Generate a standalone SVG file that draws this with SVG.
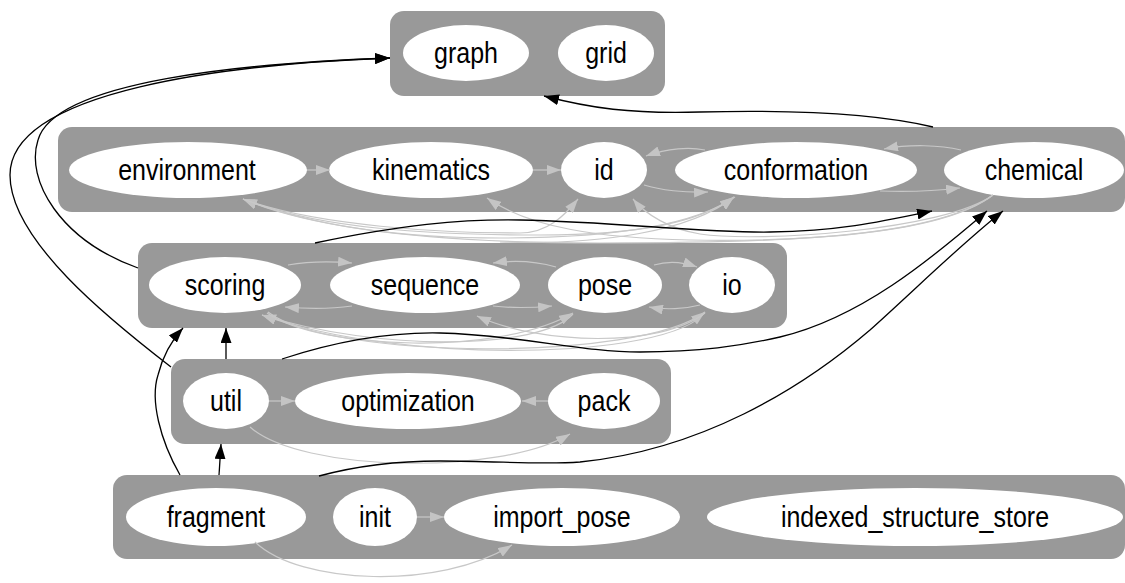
<svg xmlns="http://www.w3.org/2000/svg" width="1125" height="583" viewBox="0 0 1125 583">
<defs>
<marker id="ab" markerUnits="userSpaceOnUse" markerWidth="15" markerHeight="11" refX="15" refY="5.5" orient="auto"><path d="M0,0 L15,5.5 L0,11 z" fill="#000"/></marker>
<marker id="ag" markerUnits="userSpaceOnUse" markerWidth="14" markerHeight="10" refX="14" refY="5" orient="auto"><path d="M0,0 L14,5 L0,10 z" fill="#c4c4c4"/></marker>
</defs>
<style>
.cl{fill:#999999}
.nd{fill:#ffffff}
text{font-family:"Liberation Sans",Arial,sans-serif;font-size:25px;fill:#000;text-anchor:middle}
.g{fill:none;stroke:#c8c8c8;stroke-width:1.2;marker-end:url(#ag)}
.b{fill:none;stroke:#000;stroke-width:1.3;marker-end:url(#ab)}
</style>
<g id="clusters">
<rect class="cl" x="390" y="11" width="275" height="85" rx="14"/>
<rect class="cl" x="58" y="127" width="1067" height="85" rx="14"/>
<rect class="cl" x="138" y="243" width="649" height="85" rx="14"/>
<rect class="cl" x="171" y="359" width="500" height="85" rx="14"/>
<rect class="cl" x="113" y="475" width="1012" height="84" rx="14"/>
</g>
<g id="node-graph"><ellipse class="nd" cx="466" cy="53" rx="63" ry="28"/><text transform="translate(466,63) scale(1,1.15)">graph</text></g>
<g id="node-grid"><ellipse class="nd" cx="606" cy="53" rx="48" ry="28"/><text transform="translate(606,63) scale(1,1.15)">grid</text></g>
<g id="node-environment"><ellipse class="nd" cx="188" cy="170" rx="119" ry="28"/><text transform="translate(187,180) scale(1,1.15)">environment</text></g>
<g id="node-kinematics"><ellipse class="nd" cx="431" cy="170" rx="102" ry="28"/><text transform="translate(431,180) scale(1,1.15)">kinematics</text></g>
<g id="node-id"><ellipse class="nd" cx="604" cy="170" rx="43" ry="28"/><text transform="translate(604,180) scale(1,1.15)">id</text></g>
<g id="node-conformation"><ellipse class="nd" cx="796" cy="170" rx="121" ry="28"/><text transform="translate(796,180) scale(1,1.15)">conformation</text></g>
<g id="node-chemical"><ellipse class="nd" cx="1034" cy="170" rx="90" ry="28"/><text transform="translate(1034,180) scale(1,1.15)">chemical</text></g>
<g id="node-scoring"><ellipse class="nd" cx="225" cy="285" rx="76" ry="28"/><text transform="translate(225,295) scale(1,1.15)">scoring</text></g>
<g id="node-sequence"><ellipse class="nd" cx="425" cy="285" rx="95" ry="28"/><text transform="translate(425,295) scale(1,1.15)">sequence</text></g>
<g id="node-pose"><ellipse class="nd" cx="605" cy="285" rx="57" ry="28"/><text transform="translate(605,295) scale(1,1.15)">pose</text></g>
<g id="node-io"><ellipse class="nd" cx="732" cy="285" rx="43" ry="28"/><text transform="translate(732,295) scale(1,1.15)">io</text></g>
<g id="node-util"><ellipse class="nd" cx="226" cy="401" rx="43" ry="28"/><text transform="translate(226,411) scale(1,1.15)">util</text></g>
<g id="node-optimization"><ellipse class="nd" cx="408" cy="401" rx="113" ry="28"/><text transform="translate(408,411) scale(1,1.15)">optimization</text></g>
<g id="node-pack"><ellipse class="nd" cx="604" cy="401" rx="56" ry="28"/><text transform="translate(604,411) scale(1,1.15)">pack</text></g>
<g id="node-fragment"><ellipse class="nd" cx="216" cy="517" rx="90" ry="29"/><text transform="translate(216,527) scale(1,1.15)">fragment</text></g>
<g id="node-init"><ellipse class="nd" cx="375" cy="517" rx="42" ry="29"/><text transform="translate(375,527) scale(1,1.15)">init</text></g>
<g id="node-import_pose"><ellipse class="nd" cx="562" cy="517" rx="118" ry="29"/><text transform="translate(562,527) scale(1,1.15)">import_pose</text></g>
<g id="node-indexed_structure_store"><ellipse class="nd" cx="915" cy="517" rx="208" ry="29"/><text transform="translate(915,527) scale(1,1.15)">indexed_structure_store</text></g>
<g id="connectors">
<path class="g" d="M307,170 L330,170"/>
<path class="g" d="M533,170 L561,170"/>
<path class="g" d="M705,150 C690,147 668,148 646,156"/>
<path class="g" d="M961,150 C940,145 910,144 884,149"/>
<path class="g" d="M644,185 C660,190 685,193 708,192"/>
<path class="g" d="M880,191 C905,192 935,191 960,188"/>
<path class="g" d="M993,195 C940,236 800,243 600,243 C450,243 320,232 243,199"/>
<path class="g" d="M735,197 C690,228 600,238 500,238 C400,238 310,225 243,199"/>
<path class="g" d="M243,199 C320,229 430,235 540,235 C640,235 700,222 734,197"/>
<path class="g" d="M245,200 C320,226 440,233 520,233 C548,233 565,215 578,199"/>
<path class="g" d="M993,195 C940,234 800,242 690,240 C600,238 530,228 487,198"/>
<path class="g" d="M993,195 C945,230 760,243 700,234 C670,229 646,215 633,199"/>
<path class="g" d="M500,242 C600,245 690,232 734,197"/>
<path class="g" d="M288,265 C310,261 330,261 352,263"/>
<path class="g" d="M352,306 C330,309 310,309 285,307"/>
<path class="g" d="M556,267 C535,261 515,260 493,263"/>
<path class="g" d="M493,306 C510,308 530,308 552,306"/>
<path class="g" d="M654,265 C668,261 683,262 697,267"/>
<path class="g" d="M700,305 C685,309 665,310 649,307"/>
<path class="g" d="M573,314 C540,350 380,352 262,315"/>
<path class="g" d="M705,312 C670,360 400,365 262,315"/>
<path class="g" d="M267,313 C320,350 500,356 573,313"/>
<path class="g" d="M268,312 C330,360 640,362 705,312"/>
<path class="g" d="M705,313 C660,348 540,345 477,316"/>
<path class="g" d="M269,401 L295,401"/>
<path class="g" d="M548,401 L522,401"/>
<path class="g" d="M250,427 C300,472 500,476 570,434"/>
<path class="g" d="M417,517 L444,517"/>
<path class="g" d="M255,542 C300,585 440,590 512,545"/>
<path class="b" d="M933,127 C870,112 780,110 700,112 C630,114 590,108 544,96"/>
<path class="b" d="M138,268 C60,240 25,180 38,140 C55,80 250,63 390,58"/>
<path class="b" d="M171,367 C110,320 10,240 10,175 C10,90 230,64 390,58"/>
<path class="b" d="M226,359 L226,328"/>
<path class="b" d="M180,475 C160,440 150,400 158,375 C163,355 172,340 183,328"/>
<path class="b" d="M219,475 L221,444"/>
<path class="b" d="M315,243 C400,225 460,219 520,220 C620,222 700,233 770,232 C840,231 880,222 932,211"/>
<path class="b" d="M282,359 C340,340 390,332 440,333 C520,335 580,352 640,352 C700,352 740,346 780,337 C860,318 930,260 987,211"/>
<path class="b" d="M319,476 C360,465 400,461 440,461 C500,461 540,465 580,462 C700,450 800,390 870,330 C920,285 960,245 1003,211"/>
</g>
</svg>
